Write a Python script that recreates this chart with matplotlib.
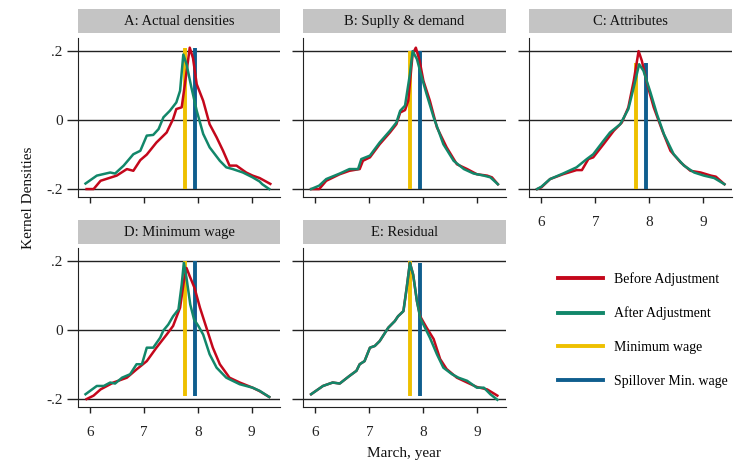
import matplotlib
matplotlib.use("Agg")
import matplotlib.pyplot as plt
from matplotlib.lines import Line2D
from matplotlib.patches import Rectangle

plt.rcParams['font.family'] = ['Liberation Serif', 'DejaVu Serif']

titles = ["A: Actual densities", "B: Suplly & demand", "C: Attributes",
          "D: Minimum wage", "E: Residual"]

# Panel A
a_before_x = [5.93, 6.06, 6.19, 6.49, 6.68, 6.80, 6.93, 7.05, 7.23, 7.42, 7.54, 7.60, 7.70, 7.76, 7.85, 7.91, 7.98, 8.10, 8.22, 8.35, 8.47, 8.59, 8.72, 8.90, 9.02, 9.15, 9.35]
a_before_y = [-0.200, -0.200, -0.176, -0.161, -0.142, -0.147, -0.116, -0.100, -0.065, -0.036, 0.003, 0.032, 0.037, 0.104, 0.210, 0.180, 0.104, 0.056, -0.012, -0.050, -0.089, -0.132, -0.132, -0.152, -0.161, -0.168, -0.185]
a_after_x = [5.91, 6.12, 6.37, 6.46, 6.62, 6.80, 6.93, 7.05, 7.17, 7.27, 7.36, 7.48, 7.60, 7.67, 7.73, 7.79, 7.88, 7.98, 8.10, 8.22, 8.41, 8.53, 8.65, 8.84, 9.02, 9.15, 9.20, 9.33]
a_after_y = [-0.184, -0.161, -0.152, -0.155, -0.132, -0.099, -0.089, -0.045, -0.043, -0.026, 0.008, 0.027, 0.051, 0.085, 0.190, 0.162, 0.095, 0.027, -0.040, -0.079, -0.118, -0.137, -0.142, -0.152, -0.166, -0.178, -0.186, -0.200]

# Panel B
b_before_x = [5.92, 6.07, 6.20, 6.45, 6.63, 6.82, 6.88, 7.01, 7.19, 7.38, 7.50, 7.57, 7.66, 7.72, 7.80, 7.86, 7.93, 8.00, 8.12, 8.25, 8.43, 8.62, 8.81, 8.99, 9.18, 9.27, 9.38]
b_before_y = [-0.200, -0.200, -0.176, -0.157, -0.147, -0.142, -0.118, -0.108, -0.070, -0.036, -0.012, 0.022, 0.029, 0.056, 0.191, 0.210, 0.172, 0.114, 0.056, -0.021, -0.079, -0.128, -0.142, -0.157, -0.161, -0.166, -0.186]
b_after_x = [5.92, 6.07, 6.20, 6.45, 6.63, 6.79, 6.85, 7.01, 7.19, 7.38, 7.50, 7.57, 7.66, 7.75, 7.80, 7.88, 7.97, 8.06, 8.19, 8.37, 8.56, 8.75, 8.93, 9.12, 9.24, 9.38]
b_after_y = [-0.200, -0.190, -0.171, -0.155, -0.142, -0.142, -0.113, -0.103, -0.065, -0.031, -0.007, 0.027, 0.042, 0.133, 0.200, 0.177, 0.124, 0.075, 0.008, -0.070, -0.118, -0.142, -0.155, -0.161, -0.166, -0.186]

# Panel C
c_before_x = [5.92, 6.00, 6.16, 6.40, 6.65, 6.75, 6.87, 6.96, 7.15, 7.34, 7.49, 7.61, 7.71, 7.80, 7.86, 7.96, 8.08, 8.24, 8.39, 8.58, 8.76, 8.95, 9.14, 9.23, 9.39]
c_before_y = [-0.200, -0.195, -0.171, -0.157, -0.145, -0.145, -0.113, -0.108, -0.070, -0.031, -0.007, 0.037, 0.114, 0.200, 0.172, 0.104, 0.037, -0.031, -0.089, -0.123, -0.147, -0.152, -0.161, -0.164, -0.186]
c_after_x = [5.92, 6.00, 6.16, 6.40, 6.65, 6.84, 6.96, 7.15, 7.27, 7.46, 7.61, 7.71, 7.81, 7.89, 8.02, 8.14, 8.27, 8.45, 8.64, 8.83, 9.01, 9.20, 9.39]
c_after_y = [-0.200, -0.193, -0.171, -0.155, -0.137, -0.113, -0.099, -0.060, -0.036, -0.012, 0.032, 0.095, 0.162, 0.143, 0.080, 0.017, -0.041, -0.099, -0.132, -0.152, -0.161, -0.168, -0.186]

# Panel D
d_before_x = [5.93, 6.06, 6.19, 6.43, 6.68, 6.86, 7.05, 7.23, 7.42, 7.54, 7.67, 7.74, 7.79, 7.85, 7.94, 8.04, 8.16, 8.28, 8.41, 8.59, 8.78, 9.02, 9.15, 9.33]
d_before_y = [-0.200, -0.190, -0.172, -0.152, -0.138, -0.114, -0.090, -0.051, -0.013, 0.012, 0.065, 0.141, 0.180, 0.156, 0.122, 0.065, 0.007, -0.051, -0.099, -0.138, -0.152, -0.167, -0.177, -0.194]
d_after_x = [5.91, 6.12, 6.25, 6.37, 6.46, 6.59, 6.74, 6.86, 6.96, 7.05, 7.17, 7.30, 7.36, 7.45, 7.54, 7.64, 7.70, 7.74, 7.79, 7.86, 7.93, 8.01, 8.10, 8.22, 8.35, 8.53, 8.78, 9.02, 9.15, 9.33]
d_after_y = [-0.186, -0.162, -0.162, -0.152, -0.155, -0.138, -0.128, -0.099, -0.099, -0.051, -0.051, -0.022, -0.001, 0.016, 0.040, 0.060, 0.132, 0.195, 0.151, 0.074, 0.031, 0.012, -0.013, -0.070, -0.109, -0.138, -0.157, -0.167, -0.176, -0.194]

# Panel E
e_after_x = [5.92, 6.14, 6.32, 6.45, 6.63, 6.76, 6.82, 6.91, 7.01, 7.10, 7.19, 7.35, 7.47, 7.53, 7.63, 7.69, 7.75, 7.81, 7.88, 7.94, 8.00, 8.12, 8.25, 8.37, 8.53, 8.65, 8.81, 8.99, 9.12, 9.24, 9.37]
e_after_y = [-0.186, -0.162, -0.152, -0.155, -0.133, -0.118, -0.099, -0.090, -0.051, -0.046, -0.032, 0.007, 0.026, 0.040, 0.055, 0.122, 0.195, 0.161, 0.084, 0.036, 0.016, -0.022, -0.070, -0.109, -0.128, -0.138, -0.147, -0.167, -0.167, -0.186, -0.202]
e_before_x = [5.92, 6.14, 6.32, 6.45, 6.63, 6.76, 6.82, 6.91, 7.01, 7.10, 7.19, 7.35, 7.47, 7.53, 7.63, 7.69, 7.75, 7.81, 7.88, 7.94, 8.06, 8.19, 8.31, 8.43, 8.62, 8.81, 8.99, 9.18, 9.37]
e_before_y = [-0.186, -0.162, -0.152, -0.155, -0.133, -0.118, -0.099, -0.090, -0.051, -0.046, -0.032, 0.007, 0.026, 0.040, 0.055, 0.122, 0.195, 0.161, 0.084, 0.040, 0.007, -0.026, -0.084, -0.113, -0.138, -0.152, -0.165, -0.172, -0.190]

befores = [(a_before_x, a_before_y), (b_before_x, b_before_y), (c_before_x, c_before_y),
           (d_before_x, d_before_y), (e_before_x, e_before_y)]
afters = [(a_after_x, a_after_y), (b_after_x, b_after_y), (c_after_x, c_after_y),
          (d_after_x, d_after_y), (e_after_x, e_after_y)]

min_wage = 7.76
spill_wage = 7.94
min_top = [0.21, 0.20, 0.165, 0.20, 0.20]
spill_top = [0.21, 0.20, 0.165, 0.20, 0.195]
vline_bottom = [-0.20, -0.20, -0.20, -0.19, -0.19]

xticks = [6, 7, 8, 9]
yticks = [-0.2, 0, 0.2]
ytick_labels = ["-.2", "0", ".2"]

RED = "#c4071b"
GREEN = "#12876a"
YELLOW = "#eec000"
BLUE = "#0f5e8e"

W, H = 750, 472
fig = plt.figure(figsize=(7.5, 4.72), dpi=100)

cols = [(78, 280), (303, 506), (529, 732)]
rows = [(38, 197), (248, 407)]
title_boxes = [(9, 33), (220, 244)]

def fx(px):
    return px / W

def fy(py):
    return 1 - py / H

axes = []
for i in range(5):
    r, c = divmod(i, 3)
    (l, rr), (t, b) = cols[c], rows[r]
    ax = fig.add_axes([fx(l), fy(b), fx(rr) - fx(l), fy(t) - fy(b)])
    axes.append(ax)
    ax.set_xlim(5.77, 9.53)
    ax.set_ylim(-0.223, 0.238)
    for yv in yticks:
        ax.axhline(yv, color="#222222", lw=1.0, zorder=1)
    bx, by = befores[i]
    gx, gy = afters[i]
    ax.vlines(min_wage, vline_bottom[i], min_top[i], color=YELLOW, lw=2.8, zorder=2)
    ax.vlines(spill_wage, vline_bottom[i], spill_top[i], color=BLUE, lw=2.8, zorder=2)
    ax.plot(bx, by, color=RED, lw=1.8, zorder=3)
    ax.plot(gx, gy, color=GREEN, lw=1.8, zorder=4)
    ax.spines['top'].set_visible(False)
    ax.spines['right'].set_visible(False)
    ax.spines['left'].set_color("#222222")
    ax.spines['bottom'].set_color("#222222")
    ax.set_xticks(xticks)
    ax.set_yticks(yticks)
    ax.tick_params(axis='x', length=4, width=1, colors="#222222", labelsize=11, pad=10)
    ax.tick_params(axis='y', length=8, width=1, colors="#222222", labelsize=11, pad=3)
    if c == 0:
        ax.set_yticklabels(ytick_labels)
    else:
        ax.set_yticklabels([])
    if r == 0 and c != 2:
        ax.set_xticklabels([])
    else:
        ax.set_xticklabels([str(v) for v in xticks])
    # title box
    tt, tb = title_boxes[r]
    fig.patches.append(Rectangle((fx(l), fy(tb)), fx(rr) - fx(l), fy(tt) - fy(tb),
                                 transform=fig.transFigure, facecolor="#c4c4c4",
                                 edgecolor="none", zorder=0))
    fig.text(fx((l + rr) / 2), fy((tt + tb) / 2 + 0.5), titles[i], ha="center", va="center",
             fontsize=10.5, color="#111111")

fig.text(fx(28), fy(198), "Kernel Densities", rotation=90, ha="center", va="center",
         fontsize=11, color="#111111")
fig.text(fx(404), fy(453), "March, year", ha="center", va="center",
         fontsize=11, color="#111111")

handles = [Line2D([], [], color=RED, lw=2.8), Line2D([], [], color=GREEN, lw=2.8),
           Line2D([], [], color=YELLOW, lw=2.8), Line2D([], [], color=BLUE, lw=2.8)]
labels = ["Before Adjustment", "After Adjustment", "Minimum wage", "Spillover Min. wage"]
fig.legend(handles, labels, loc="upper left", bbox_to_anchor=(fx(545), fy(259.5)),
           frameon=False, fontsize=10, handlelength=3.3, handletextpad=0.8,
           labelspacing=1.5)

fig.savefig("out.png", dpi=100)
